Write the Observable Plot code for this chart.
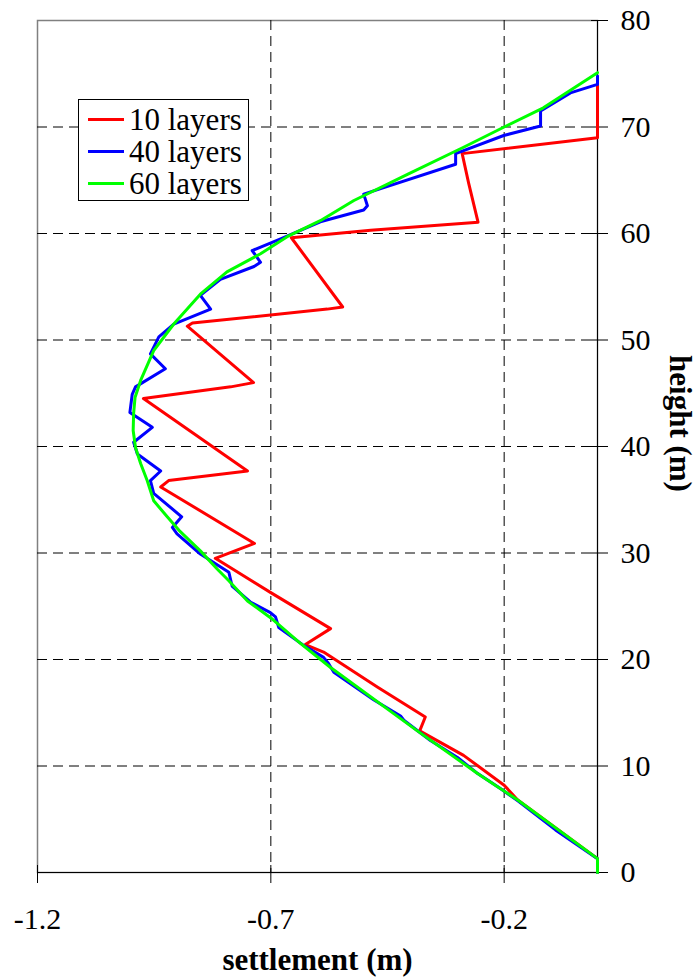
<!DOCTYPE html>
<html>
<head>
<meta charset="utf-8">
<script src="https://cdn.jsdelivr.net/npm/d3@7"></script>
<script src="https://cdn.jsdelivr.net/npm/@observablehq/plot@0.6"></script>
<style>
  body { margin: 0; background: #fff; }
  #wrap { position: relative; width: 698px; height: 980px; }
  #legend {
    position: absolute; left: 78px; top: 99px; width: 169px; height: 100px;
    border: 1px solid #000; background: #fff;
    font-family: "Liberation Serif", "Times New Roman", serif; font-size: 31px; color: #000;
  }
  .row { position: absolute; left: 0; height: 32px; line-height: 32px; white-space: nowrap; }
  .sw { position: absolute; left: 9px; top: 14px; width: 36px; height: 3px; }
  .lb { position: absolute; left: 50px; top: 0; }
</style>
</head>
<body>
<div id="wrap"><div id="chart"></div><div id="legend"></div></div>
<script>
// ---- data (settlement in m, height in m) ----
const xTicks = [-1.2, -0.7, -0.2];
const yTicks = [0, 10, 20, 30, 40, 50, 60, 70, 80];
const gridX = [-0.7, -0.2];
const gridY = [10, 20, 30, 40, 50, 60, 70];
const seriesNames = ["10 layers", "40 layers", "60 layers"];
const seriesColors = ["#ff0000", "#0000ff", "#00ff00"];

const layers10 = [
  [0, 0], [0, 1.3], [-0.171, 6.8], [-0.2, 8.2], [-0.287, 11.0], [-0.381, 13.3], [-0.369, 14.6],
  [-0.471, 17.4], [-0.587, 20.7], [-0.626, 21.4], [-0.572, 22.9], [-0.701, 26.3], [-0.819, 29.5],
  [-0.735, 30.9], [-0.936, 36.2], [-0.919, 36.8], [-0.75, 37.7], [-0.973, 44.5], [-0.786, 45.6],
  [-0.737, 46.0], [-0.879, 51.3], [-0.868, 51.6], [-0.579, 52.9], [-0.546, 53.1], [-0.656, 59.6],
  [-0.486, 60.3], [-0.256, 61.06], [-0.276, 64.7], [-0.29, 67.5], [0, 69.0], [0, 74.2]
];
const layers40 = [
  [0, 0], [0, 1.3], [-0.09, 4.0], [-0.17, 6.7], [-0.205, 7.8], [-0.26, 9.4], [-0.30, 10.8],
  [-0.358, 12.4], [-0.415, 14.3], [-0.422, 14.7], [-0.479, 16.2], [-0.565, 18.8], [-0.576, 19.6],
  [-0.587, 20.2], [-0.629, 21.3], [-0.683, 23.0], [-0.69, 24.0], [-0.701, 24.4], [-0.744, 25.4],
  [-0.783, 26.9], [-0.79, 28.2], [-0.851, 29.9], [-0.901, 31.8], [-0.911, 32.4], [-0.891, 33.4],
  [-0.951, 35.6], [-0.958, 36.8], [-0.936, 37.7], [-0.986, 39.3], [-0.994, 40.4], [-0.954, 41.8],
  [-1.002, 43.2], [-0.997, 44.9], [-0.99, 45.6], [-0.926, 47.3], [-0.958, 48.7], [-0.94, 50.3],
  [-0.908, 51.5], [-0.829, 52.9], [-0.851, 54.2], [-0.808, 55.7], [-0.736, 56.9], [-0.722, 57.3],
  [-0.74, 58.4], [-0.679, 59.5], [-0.594, 61.1], [-0.501, 62.2], [-0.493, 62.6], [-0.501, 63.7],
  [-0.304, 66.5], [-0.304, 67.5], [-0.201, 69.2], [-0.122, 70.1], [-0.122, 71.5], [-0.058, 73.2],
  [0, 74.0], [0, 74.8]
];
const layers60 = [
  [0, 0], [0, 1.3], [-0.171, 6.8], [-0.257, 9.3], [-0.386, 13.3], [-0.572, 19.25], [-0.636, 21.5],
  [-0.70, 23.9], [-0.75, 25.5], [-0.79, 27.4], [-0.815, 28.5], [-0.851, 30.2], [-0.894, 32.0],
  [-0.922, 33.4], [-0.951, 34.9], [-0.965, 36.8], [-0.979, 38.4], [-0.99, 39.9], [-0.995, 41.5],
  [-0.994, 43.1], [-0.991, 44.6], [-0.979, 46.2], [-0.951, 49.0], [-0.908, 51.5], [-0.851, 54.3],
  [-0.794, 56.4], [-0.722, 58.1], [-0.665, 59.7], [-0.594, 61.2], [-0.522, 63.1], [-0.405, 65.6],
  [-0.287, 68.1], [-0.2, 70.0], [-0.116, 71.8], [0, 75.1]
];

const rows = [];
[layers10, layers40, layers60].forEach((s, i) =>
  s.forEach(([x, y]) => rows.push({series: seriesNames[i], x, y})));

const chart = Plot.plot({
  width: 698,
  height: 980,
  marginLeft: 37,
  marginRight: 101,
  marginTop: 20,
  marginBottom: 108,
  style: {fontFamily: "'Liberation Serif', 'Times New Roman', serif", fontSize: "30px", color: "#000", background: "#fff", overflow: "visible"},
  x: {domain: [-1.2, 0]},
  y: {domain: [0, 80]},
  color: {domain: seriesNames, range: seriesColors},
  marks: [
    Plot.frame({stroke: "#808080", strokeWidth: 1.5}),
    Plot.ruleX(gridX, {x: d => d, stroke: "#000", strokeWidth: 1, strokeDasharray: "10,6"}),
    Plot.ruleY(gridY, {y: d => d, stroke: "#000", strokeWidth: 1, strokeDasharray: "10,6"}),
    Plot.ruleX([0], {stroke: "#000", strokeWidth: 1}),
    Plot.ruleY([0], {stroke: "#000", strokeWidth: 1}),
    Plot.axisX(xTicks, {anchor: "bottom", tickSize: 18, dy: -7, tickPadding: 24, fontSize: 30,
      tickFormat: d => d.toFixed(1), label: null}),
    Plot.axisY(yTicks, {anchor: "right", tickSize: 17, dx: -7, tickPadding: 13, fontSize: 30,
      tickFormat: d => String(d), label: null}),
    Plot.line(rows, {x: "x", y: "y", z: "series", stroke: "series", strokeWidth: 3, strokeLinejoin: "round"}),
    Plot.text(["settlement (m)"], {text: d => d, frameAnchor: "bottom", dy: 88, lineAnchor: "middle",
      textAnchor: "middle", fontWeight: "bold", fontSize: 31}),
    Plot.text(["height (m)"], {text: d => d, frameAnchor: "right", dx: 82, dy: -23, rotate: 90,
      textAnchor: "middle", lineAnchor: "middle", fontWeight: "bold", fontSize: 31})
  ]
});
document.getElementById("chart").appendChild(chart);

// legend
const leg = document.getElementById("legend");
seriesNames.forEach((name, i) => {
  const row = document.createElement("div");
  row.className = "row";
  row.style.top = (4 + i * 32) + "px";
  row.style.width = "169px";
  const sw = document.createElement("div");
  sw.className = "sw";
  sw.style.background = seriesColors[i];
  const lb = document.createElement("div");
  lb.className = "lb";
  lb.textContent = name;
  row.appendChild(sw);
  row.appendChild(lb);
  leg.appendChild(row);
});
</script>
</body>
</html>
